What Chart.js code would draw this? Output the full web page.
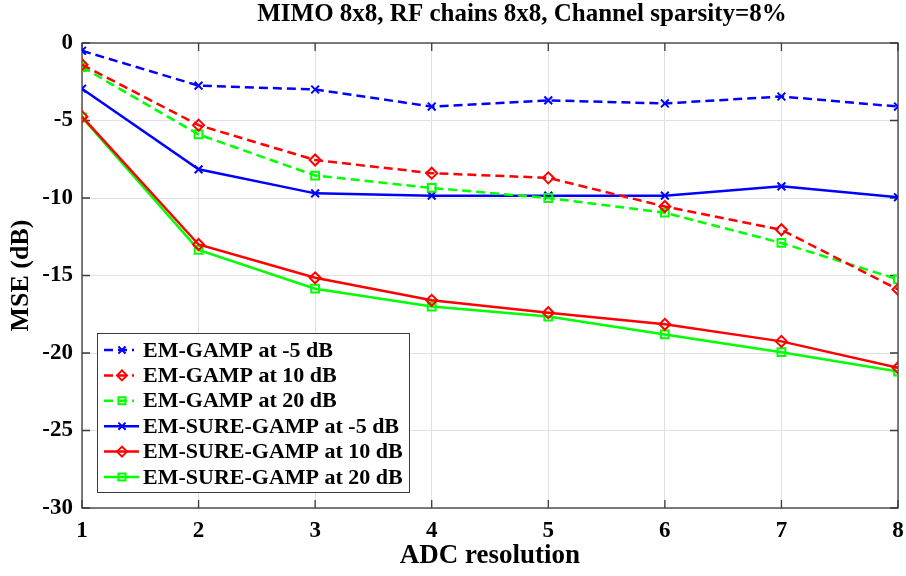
<!DOCTYPE html>
<html>
<head>
<meta charset="utf-8">
<script src="https://cdn.jsdelivr.net/npm/chart.js@4.4.1/dist/chart.umd.min.js"></script>
<style>
  html, body { margin: 0; padding: 0; background: #fff; }
  #wrap { width: 906px; height: 576px; }
</style>
</head>
<body>
<div id="wrap"><canvas id="mseChart" width="906" height="576"></canvas></div>
<script>
// Datos (MSE en dB vs bits del ADC)
const adcBits = [1, 2, 3, 4, 5, 6, 7, 8];
const yTicks = [0, -5, -10, -15, -20, -25, -30];

const emGampM5  = [-0.5, -2.75, -3.0, -4.1, -3.7, -3.9, -3.45, -4.1];
const emGamp10  = [-1.4, -5.3, -7.55, -8.4, -8.7, -10.55, -12.05, -15.9];
const emGamp20  = [-1.55, -5.9, -8.55, -9.35, -10.0, -10.95, -12.9, -15.25];
const sureGampM5 = [-2.95, -8.15, -9.7, -9.85, -9.85, -9.85, -9.25, -9.95];
const sureGamp10 = [-4.75, -13.0, -15.15, -16.6, -17.4, -18.15, -19.25, -20.95];
const sureGamp20 = [-4.8, -13.35, -15.85, -17.0, -17.65, -18.8, -19.95, -21.2];

const seriesLabels = [
    'EM-GAMP at -5 dB',
    'EM-GAMP at 10 dB',
    'EM-GAMP at 20 dB',
    'EM-SURE-GAMP at -5 dB',
    'EM-SURE-GAMP at 10 dB',
    'EM-SURE-GAMP at 20 dB'
];
const chartTitle = 'MIMO 8x8, RF chains 8x8, Channel sparsity=8%';

const colors = {
    blue: '#0000ff',
    red: '#ff0000',
    green: '#00ff00',
    axis: '#3a3a3a',
    grid: '#e2e2e2'
};
const serif = "'Liberation Serif', 'Times New Roman', serif";

function toPoints(values) {
    return adcBits.map((x, i) => ({ x: x, y: values[i] }));
}

function makeDataset(label, values, color, marker, dashed) {
    return {
        label: label,
        data: toPoints(values),
        borderColor: color,
        backgroundColor: 'rgba(0,0,0,0)',
        borderWidth: 2.5,
        borderDash: dashed ? [9, 5] : [],
        pointStyle: marker,
        pointRadius: 5.5,
        pointBorderWidth: 2,
        pointBorderColor: color,
        pointBackgroundColor: 'rgba(0,0,0,0)',
        tension: 0,
        fill: false
    };
}

// Caja de ejes estilo MATLAB con marcas hacia adentro
const axesBox = {
    id: 'axesBox',
    beforeDatasetsDraw(chart) {
        const { ctx, chartArea: a, scales } = chart;
        ctx.save();
        ctx.strokeStyle = colors.axis;
        ctx.lineWidth = 1.3;
        ctx.strokeRect(a.left, a.top, a.right - a.left, a.bottom - a.top);
        ctx.beginPath();
        adcBits.forEach(v => {
            const px = scales.x.getPixelForValue(v);
            ctx.moveTo(px, a.bottom); ctx.lineTo(px, a.bottom - 8);
            ctx.moveTo(px, a.top); ctx.lineTo(px, a.top + 8);
        });
        yTicks.forEach(v => {
            const py = scales.y.getPixelForValue(v);
            ctx.moveTo(a.left, py); ctx.lineTo(a.left + 8, py);
            ctx.moveTo(a.right, py); ctx.lineTo(a.right - 8, py);
        });
        ctx.stroke();
        ctx.restore();
    }
};

// Titulo y leyenda dibujados a mano
const extras = {
    id: 'extras',
    afterDraw(chart) {
        const ctx = chart.ctx;
        ctx.save();
        ctx.fillStyle = '#000';
        ctx.font = 'bold 25px ' + serif;
        ctx.textAlign = 'center';
        ctx.textBaseline = 'middle';
        ctx.fillText(chartTitle, 522, 15);

        // leyenda
        const box = { x: 97, y: 333, w: 312, h: 159 };
        ctx.fillStyle = '#fff';
        ctx.fillRect(box.x, box.y, box.w, box.h);
        ctx.strokeStyle = colors.axis;
        ctx.lineWidth = 1;
        ctx.strokeRect(box.x + 0.5, box.y + 0.5, box.w, box.h);

        chart.data.datasets.forEach((ds, i) => {
            const cy = 350 + i * 25.4;
            ctx.strokeStyle = ds.borderColor;
            ctx.lineWidth = ds.borderWidth;
            ctx.setLineDash(ds.borderDash);
            ctx.beginPath();
            ctx.moveTo(104, cy);
            ctx.lineTo(ds.borderDash.length ? 134 : 139, cy);
            ctx.stroke();
            ctx.setLineDash([]);
            ctx.lineWidth = ds.pointBorderWidth;
            ctx.fillStyle = 'rgba(0,0,0,0)';
            Chart.helpers.drawPoint(ctx, {
                pointStyle: ds.pointStyle,
                radius: 5,
                rotation: 0,
                borderWidth: ds.pointBorderWidth
            }, 122, cy);
            ctx.fillStyle = '#000';
            ctx.font = 'bold 22px ' + serif;
            ctx.textAlign = 'left';
            ctx.textBaseline = 'middle';
            ctx.fillText(ds.label, 143, cy + 1);
        });
        ctx.restore();
    }
};

const ctx = document.getElementById('mseChart').getContext('2d');
new Chart(ctx, {
    type: 'line',
    data: {
        datasets: [
            makeDataset(seriesLabels[0], emGampM5, colors.blue, 'crossRot', true),
            makeDataset(seriesLabels[1], emGamp10, colors.red, 'rectRot', true),
            makeDataset(seriesLabels[2], emGamp20, colors.green, 'rect', true),
            makeDataset(seriesLabels[3], sureGampM5, colors.blue, 'crossRot', false),
            makeDataset(seriesLabels[4], sureGamp10, colors.red, 'rectRot', false),
            makeDataset(seriesLabels[5], sureGamp20, colors.green, 'rect', false)
        ]
    },
    options: {
        responsive: false,
        animation: false,
        layout: { padding: { top: 43, right: 8, left: 0, bottom: 0 } },
        plugins: {
            legend: { display: false },
            title: { display: false },
            tooltip: { enabled: false }
        },
        scales: {
            x: {
                type: 'linear',
                min: 1,
                max: 8,
                afterBuildTicks: s => { s.ticks = adcBits.map(v => ({ value: v })); },
                afterFit: s => { s.height = 68; s.paddingLeft = 0; s.paddingRight = 0; },
                border: { display: false },
                grid: { color: colors.grid, drawTicks: false, lineWidth: 1 },
                ticks: {
                    color: '#000',
                    padding: 9,
                    font: { family: serif, size: 23, weight: 'bold' }
                },
                title: {
                    display: true,
                    text: 'ADC resolution',
                    color: '#000',
                    padding: { top: 0, bottom: 4 },
                    font: { family: serif, size: 27, weight: 'bold' }
                }
            },
            y: {
                min: -30,
                max: 0,
                afterBuildTicks: s => { s.ticks = yTicks.map(v => ({ value: v })); },
                afterFit: s => { s.width = 82; s.paddingTop = 0; s.paddingBottom = 0; },
                border: { display: false },
                grid: { color: colors.grid, drawTicks: false, lineWidth: 1 },
                ticks: {
                    color: '#000',
                    padding: 9,
                    font: { family: serif, size: 23, weight: 'bold' }
                },
                title: {
                    display: true,
                    text: 'MSE (dB)',
                    color: '#000',
                    padding: { top: 6, bottom: 0 },
                    font: { family: serif, size: 26, weight: 'bold' }
                }
            }
        }
    },
    plugins: [axesBox, extras]
});
</script>
</body>
</html>
